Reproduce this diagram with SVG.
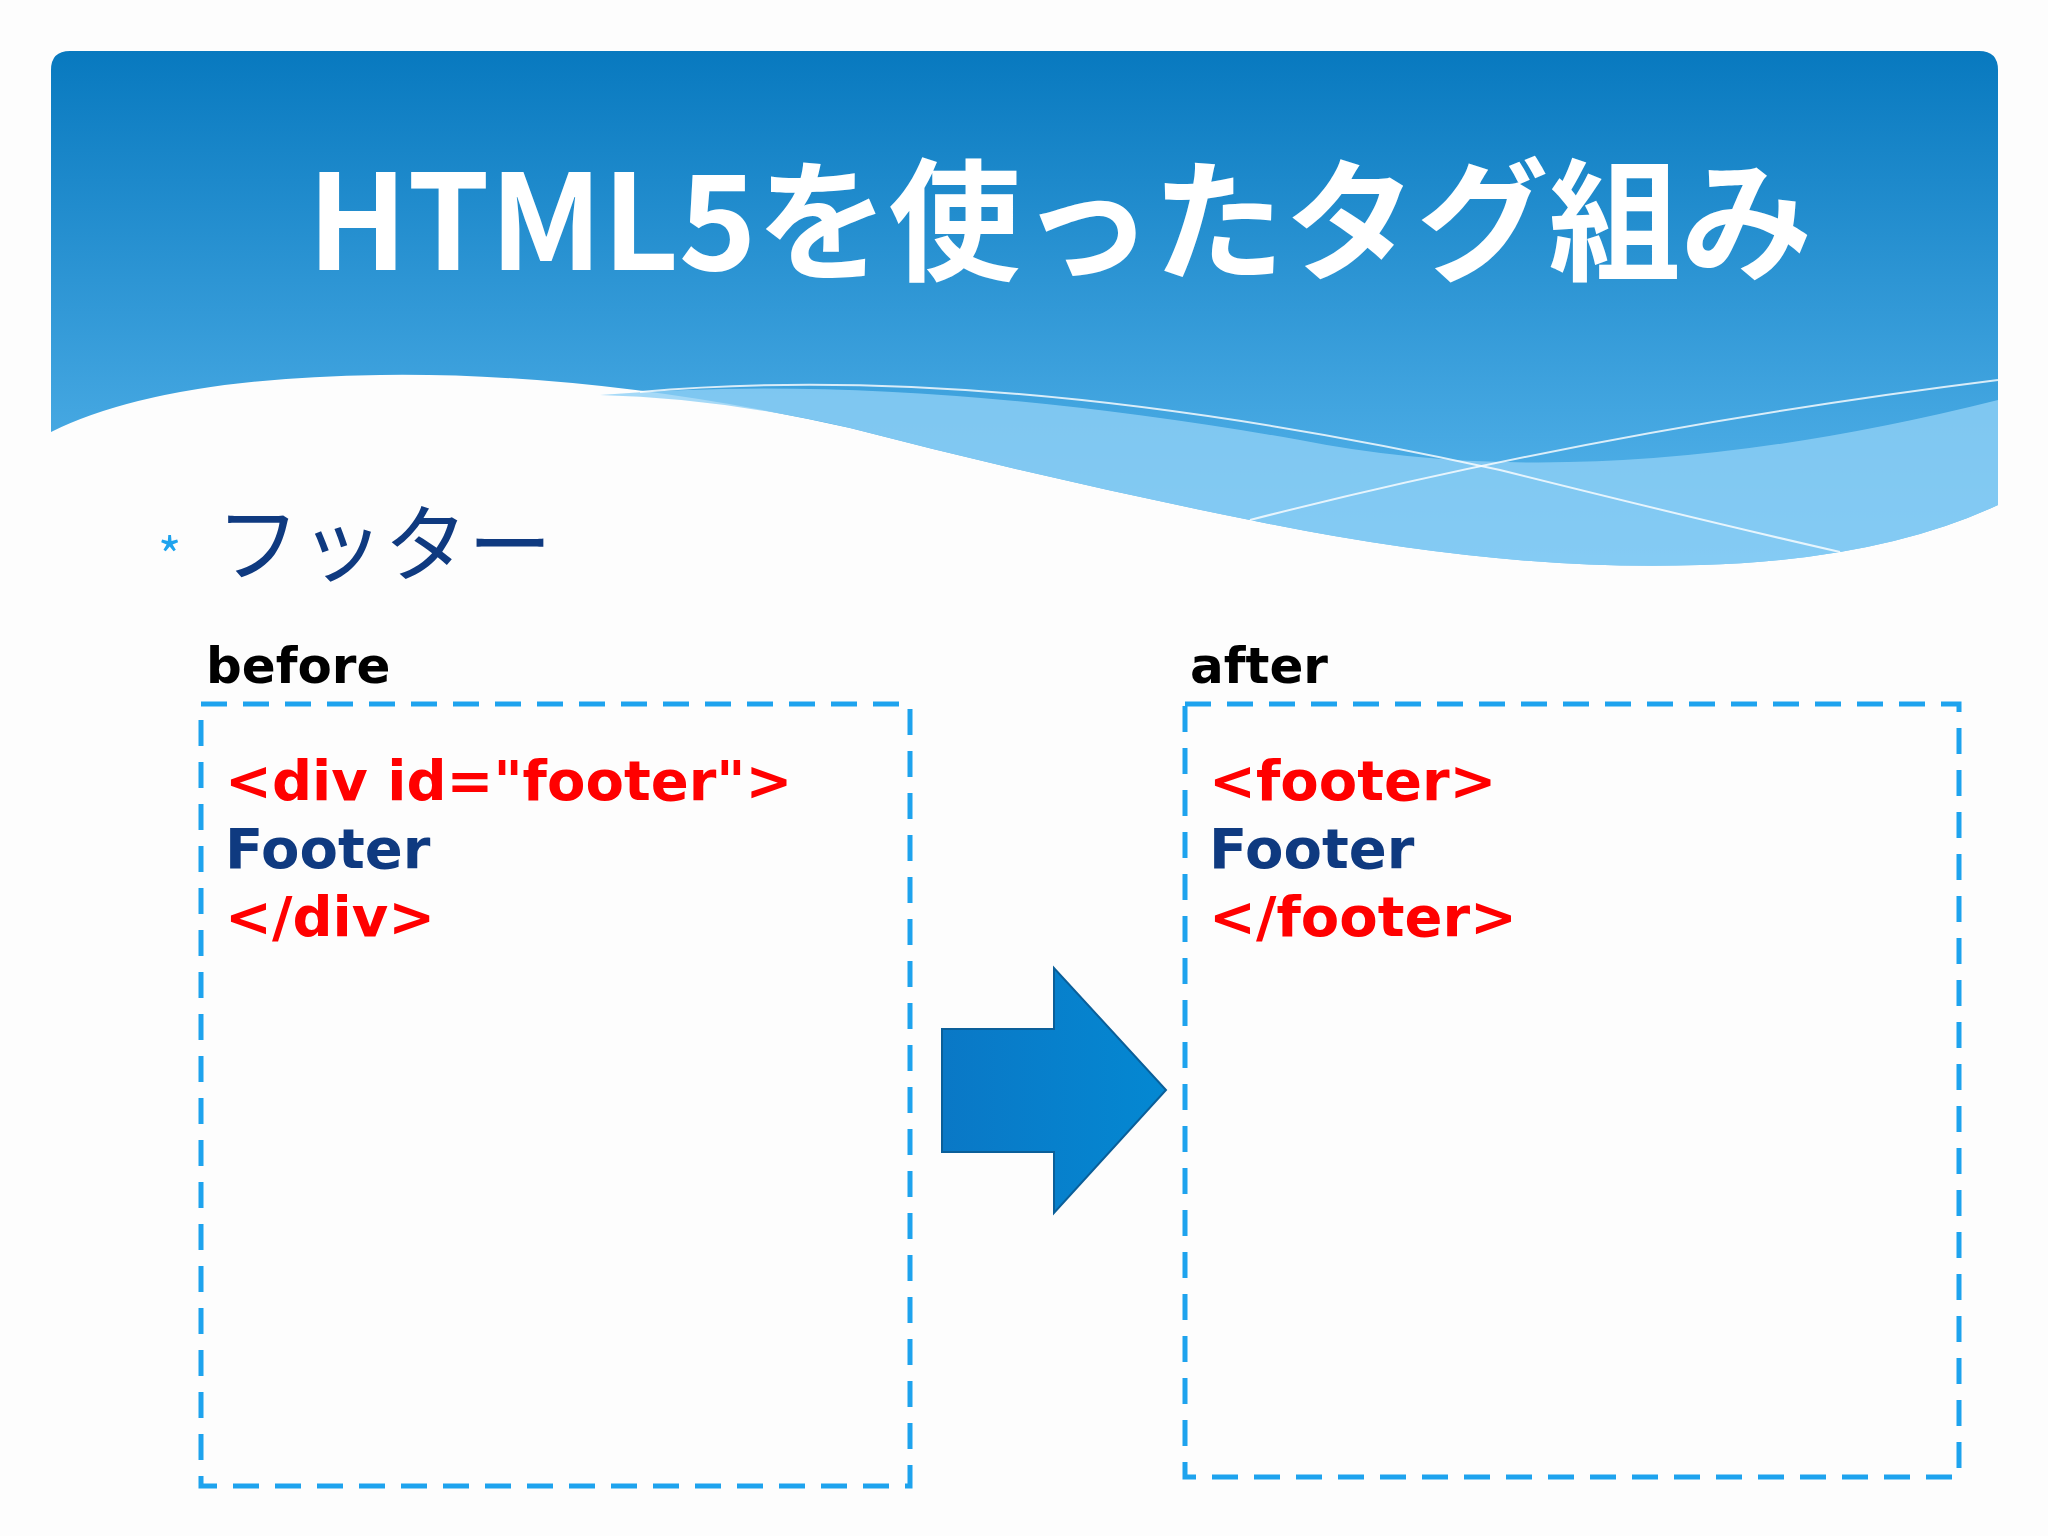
<svg xmlns="http://www.w3.org/2000/svg" width="2048" height="1536" viewBox="0 0 2048 1536">
<defs>
<linearGradient id="hg" x1="0" y1="0" x2="0" y2="1"><stop offset="0" stop-color="#0879bf"/><stop offset="1" stop-color="#5bb8ee"/></linearGradient>
<linearGradient id="ar" x1="0" y1="0" x2="1" y2="0"><stop offset="0" stop-color="#0a78c6"/><stop offset="1" stop-color="#0488d2"/></linearGradient>
<style>
.box{fill:none;stroke:#1ea3ee;stroke-width:5;stroke-dasharray:26 16}
.code{font-family:Verdana,"DejaVu Sans",sans-serif;font-weight:bold;font-size:56px}
.red{fill:#ff0000}.blue{fill:#0f3a80}
.lbl{font-family:Verdana,"DejaVu Sans",sans-serif;font-weight:bold;font-size:50px;fill:#000}
</style>
</defs>
<rect width="2048" height="1536" fill="#fdfdfd"/>
<g id="header">
<path d="M51 70 Q51 51 70 51 H1979 Q1998 51 1998 70 V505 Q1880 560 1700 565 Q1500 572 1250 520 Q1050 480 850 428 Q600 372 380 375 Q160 378 51 432 Z" fill="url(#hg)"/>
<path d="M600 395 Q900 370 1300 440 Q1600 500 1998 400 V505 Q1880 560 1700 565 Q1500 572 1250 520 Q1050 480 850 428 Q720 398 600 395 Z" fill="#8ecff5" opacity="0.8"/>
<path d="M1250 520 Q1600 430 1998 380" fill="none" stroke="#ffffff" stroke-width="2" opacity="0.8"/>
<path d="M640 392 Q1000 360 1500 470 Q1700 520 1840 552" fill="none" stroke="#ffffff" stroke-width="2" opacity="0.8"/>
<text x="1060" y="270" text-anchor="middle" font-family="'Noto Sans CJK JP',sans-serif" font-weight="bold" font-size="132" fill="#fff">HTML5を使ったタグ組み</text>
</g>
<g id="bullet">
<text x="158" y="575" font-family="'Noto Sans CJK JP',sans-serif" font-size="50" fill="#1ea3ee">*</text>
<text x="216" y="575" font-family="'Noto Sans CJK JP',sans-serif" font-size="84" fill="#0f3a80">フッター</text>
</g>
<g id="before">
<text x="206" y="683" class="lbl">before</text>
<rect x="201" y="704" width="709" height="782" class="box"/>
<text x="225" y="800" class="code red">&lt;div id="footer"&gt;</text>
<text x="225" y="868" class="code blue">Footer</text>
<text x="225" y="936" class="code red">&lt;/div&gt;</text>
</g>
<g id="after">
<text x="1190" y="683" class="lbl">after</text>
<rect x="1185" y="704" width="774" height="773" class="box"/>
<text x="1209" y="800" class="code red">&lt;footer&gt;</text>
<text x="1209" y="868" class="code blue">Footer</text>
<text x="1209" y="936" class="code red">&lt;/footer&gt;</text>
</g>
<g id="connectors">
<path d="M942 1029 H1054 V968 L1166 1090 L1054 1213 V1152 H942 Z" fill="url(#ar)" stroke="#0b5f99" stroke-width="2"/>
</g>
</svg>
